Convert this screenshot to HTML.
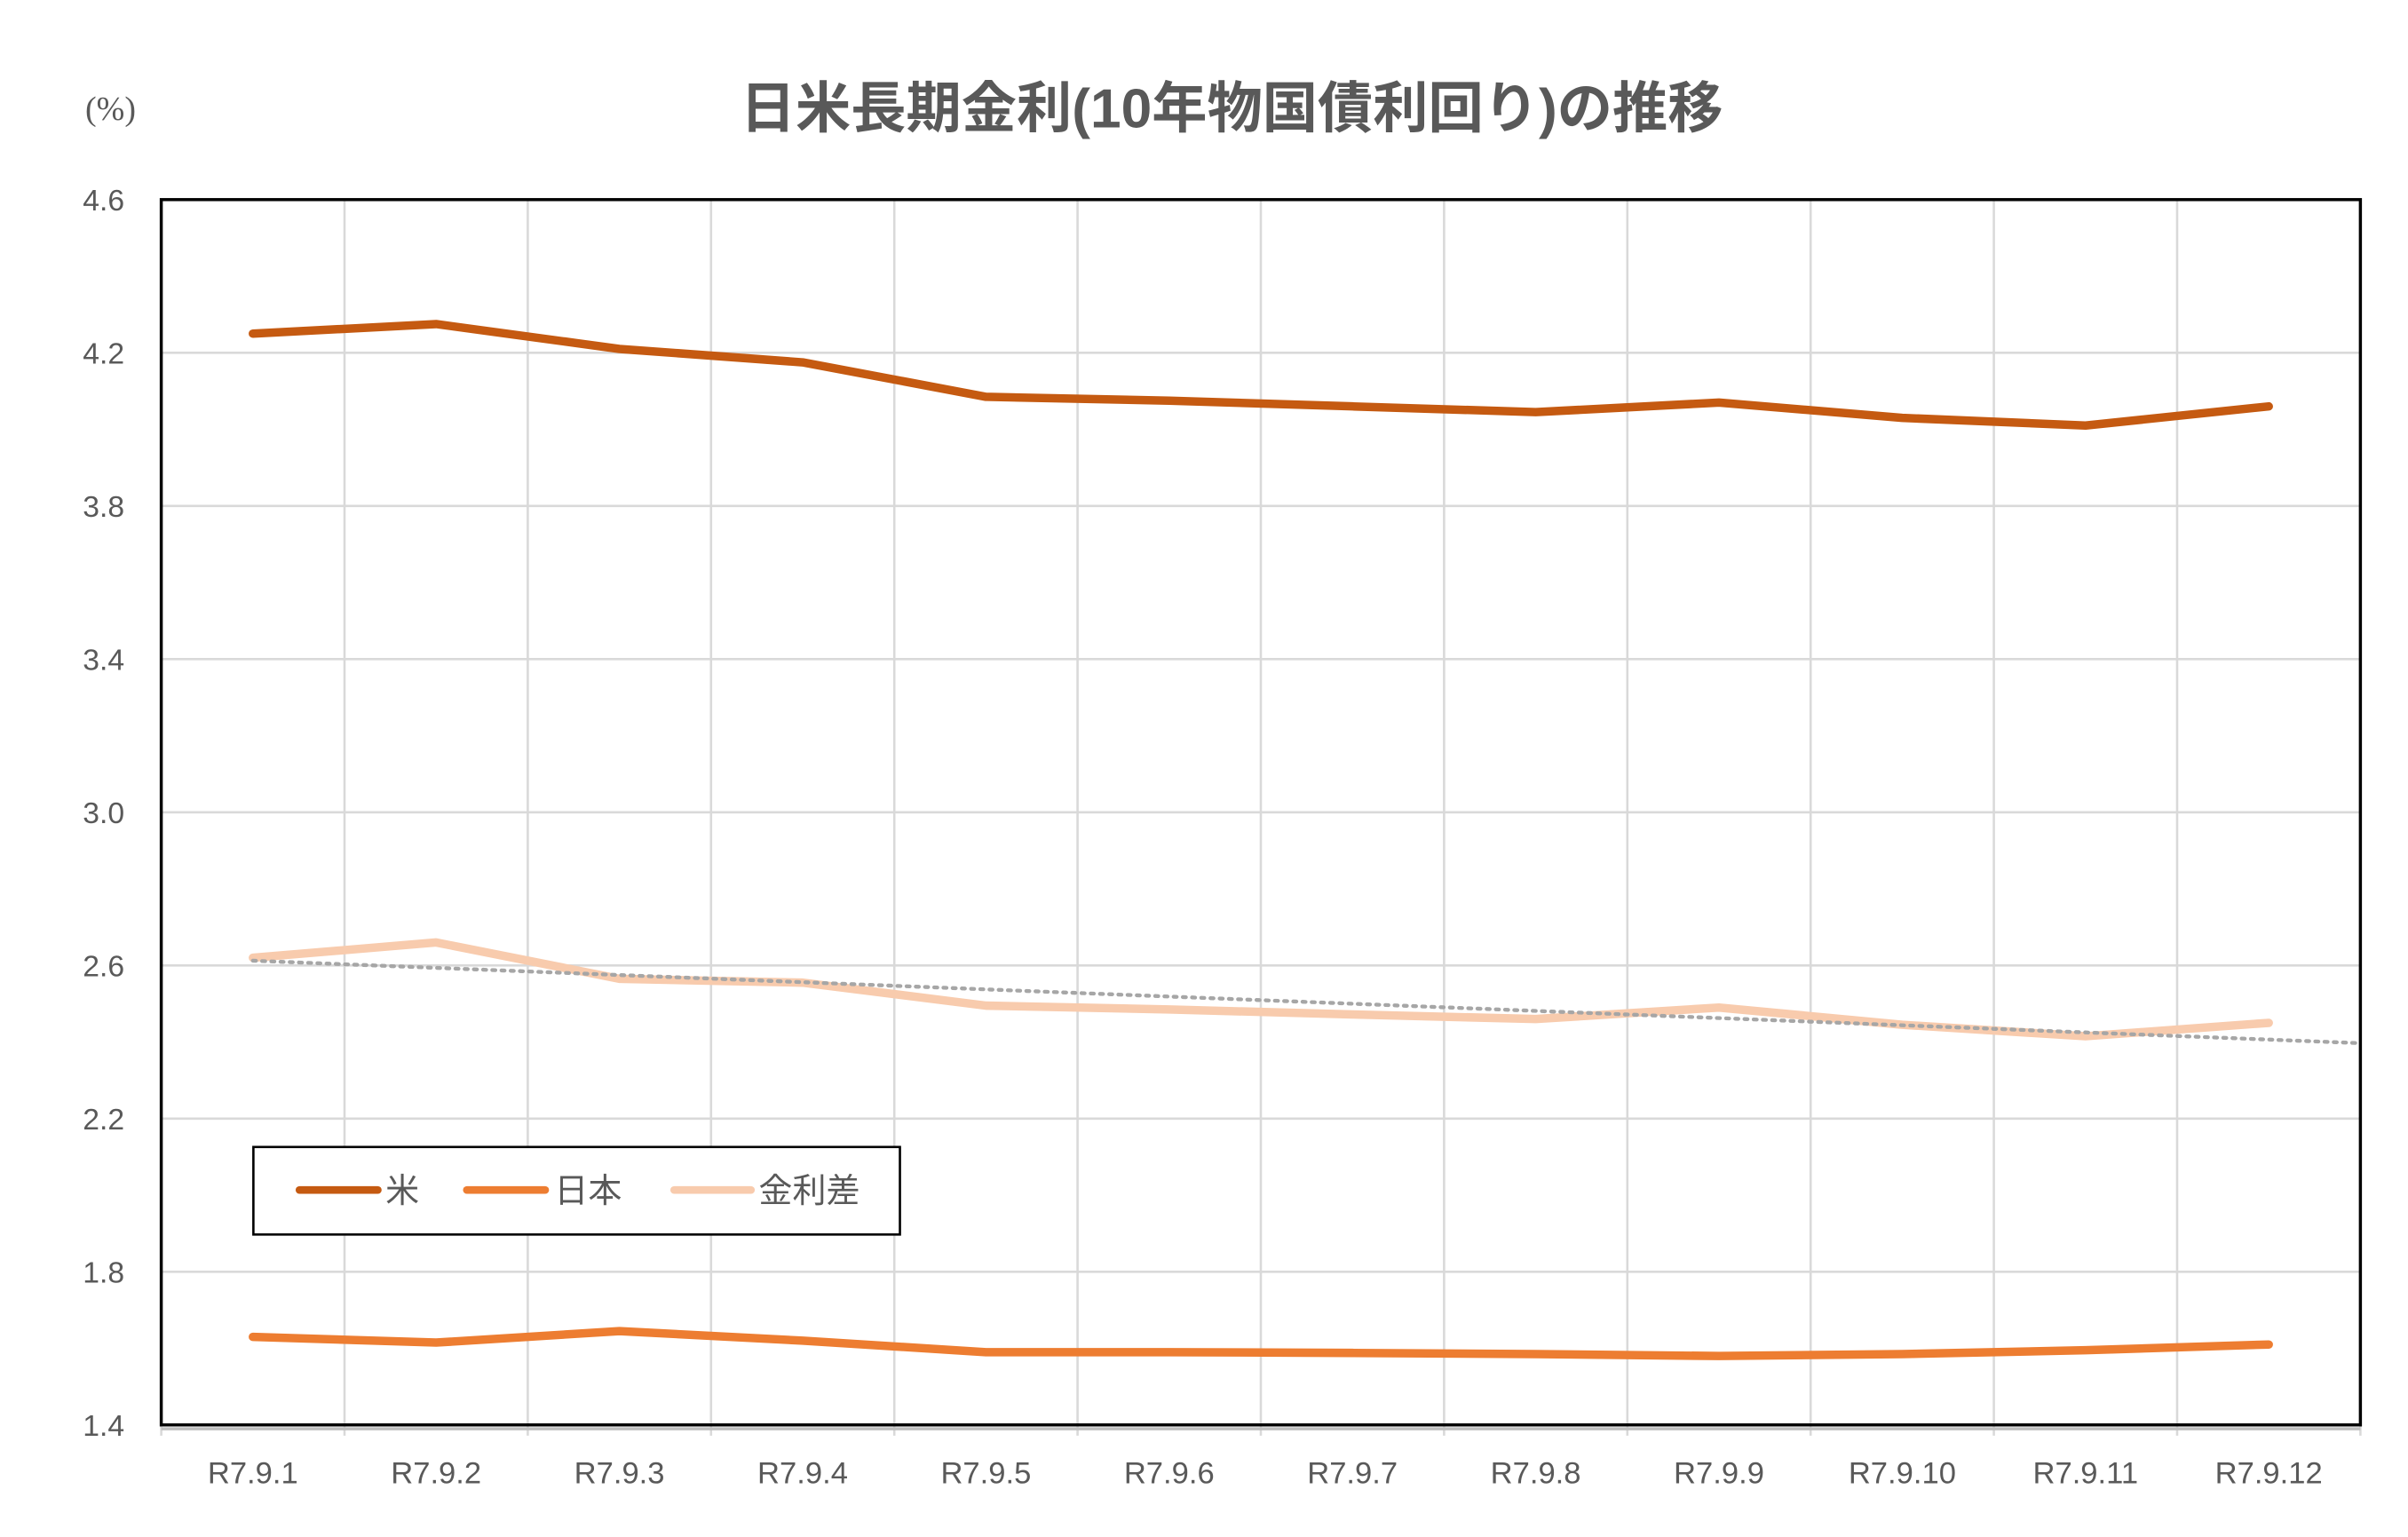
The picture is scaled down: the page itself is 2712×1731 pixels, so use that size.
<!DOCTYPE html>
<html><head><meta charset="utf-8"><style>
html,body{margin:0;padding:0;background:#fff;}
svg{display:block;font-family:"Liberation Sans","Noto Sans CJK JP",sans-serif;}
</style></head><body>
<svg id="c" width="2712" height="1731" viewBox="0 0 1568 1001" preserveAspectRatio="none" xmlns="http://www.w3.org/2000/svg">
<rect width="1568" height="1001" fill="#fff"/>
<text x="802" y="83" text-anchor="middle" font-size="36" font-weight="bold" fill="#595959">日米長期金利(10年物国債利回り)の推移</text>
<text x="72" y="78" text-anchor="middle" font-size="22" fill="#595959" font-family="Liberation Serif, Noto Serif CJK SC, serif">(%)</text>
<g id="grid"></g>
<g id="series"></g>
<rect x="105" y="130" width="1432" height="798" fill="none" stroke="#000" stroke-width="2"/>
<g>
<rect x="165" y="747" width="421" height="57" fill="#fff" stroke="#000" stroke-width="1.5"/>
<line x1="195" y1="775" x2="246" y2="775" stroke="#C55A11" stroke-width="5" stroke-linecap="round"/>
<text x="251" y="783" font-size="22" fill="#595959">米</text>
<line x1="304" y1="775" x2="355" y2="775" stroke="#ED7D31" stroke-width="5" stroke-linecap="round"/>
<text x="361" y="783" font-size="22" fill="#595959">日本</text>
<line x1="439" y1="775" x2="489" y2="775" stroke="#F8CBAD" stroke-width="5" stroke-linecap="round"/>
<text x="494" y="783" font-size="22" fill="#595959">金利差</text>
</g>
</svg>
<script>
const categories = ["R7.9.1","R7.9.2","R7.9.3","R7.9.4","R7.9.5","R7.9.6","R7.9.7","R7.9.8","R7.9.9","R7.9.10","R7.9.11","R7.9.12"];
const usValues = [4.25,4.275,4.21,4.175,4.085,4.075,4.06,4.045,4.07,4.03,4.01,4.06];
const japanValues = [1.63,1.615,1.645,1.62,1.59,1.59,1.588,1.585,1.58,1.585,1.595,1.61];
const spreadValues = [2.62,2.66,2.565,2.555,2.495,2.485,2.472,2.46,2.49,2.445,2.415,2.45];
const yTicks = [1.4,1.8,2.2,2.6,3.0,3.4,3.8,4.2,4.6];

const NS="http://www.w3.org/2000/svg";
const L=105,R=1537,T=130,B=928,yMin=1.4,yMax=4.6;
const bw=(R-L)/categories.length;
function xPos(i){return L+bw*(i+0.5);}
function yPos(v){return B-(v-yMin)/(yMax-yMin)*(B-T);}
function mk(tag,attrs,parent){const e=document.createElementNS(NS,tag);for(const k in attrs)e.setAttribute(k,attrs[k]);parent.appendChild(e);return e;}
const grid=document.getElementById('grid'),ser=document.getElementById('series');
yTicks.forEach(v=>{
  const g=mk('line',{x1:L,x2:R,y1:yPos(v),y2:yPos(v),stroke:'#d9d9d9','stroke-width':1.5},grid);
  
  
  const t=mk('text',{x:81,y:yPos(v)+7,'text-anchor':'end','font-size':19.5,fill:'#595959'},grid);
  t.textContent=v.toFixed(1);
  
  
});
for(let i=0;i<=categories.length;i++){
  const x=L+bw*i;
  if(i>0&&i<categories.length){const g=mk('line',{x1:x,x2:x,y1:T,y2:B,stroke:'#d9d9d9','stroke-width':1.5},grid);
  
  }
  const tk=mk('line',{x1:x,x2:x,y1:B,y2:B+7,stroke:'#d9d9d9','stroke-width':1.5},grid);
  
  
}
const ax=mk('line',{x1:L,x2:R,y1:B+2.5,y2:B+2.5,stroke:'#bfbfbf','stroke-width':2},grid);


categories.forEach((c,i)=>{
  const t=mk('text',{x:xPos(i),y:966,'text-anchor':'middle','font-size':20,fill:'#595959'},grid);
  t.textContent=c;
  
  
});
function line(vals,color,name){
  const p=mk('polyline',{points:vals.map((v,i)=>xPos(i)+','+yPos(v)).join(' '),fill:'none',stroke:color,'stroke-width':5.5,'stroke-linejoin':'round','stroke-linecap':'round'},ser);
  
  
}
line(spreadValues,'#F8CBAD','spread-line');
const n=spreadValues.length;let sx=0,sy=0,sxy=0,sxx=0;
spreadValues.forEach((v,i)=>{sx+=i;sy+=v;sxy+=i*v;sxx+=i*i;});
const slope=(n*sxy-sx*sy)/(n*sxx-sx*sx),icp=(sy-slope*sx)/n;
const xe=n-0.5;
const tr=mk('line',{x1:xPos(0),y1:yPos(icp),x2:xPos(xe),y2:yPos(icp+slope*xe),stroke:'#a6a6a6','stroke-width':2.5,'stroke-dasharray':'2 4','stroke-linecap':'round'},ser);


line(usValues,'#C55A11','us-line');
line(japanValues,'#ED7D31','japan-line');
</script>
</body></html>
